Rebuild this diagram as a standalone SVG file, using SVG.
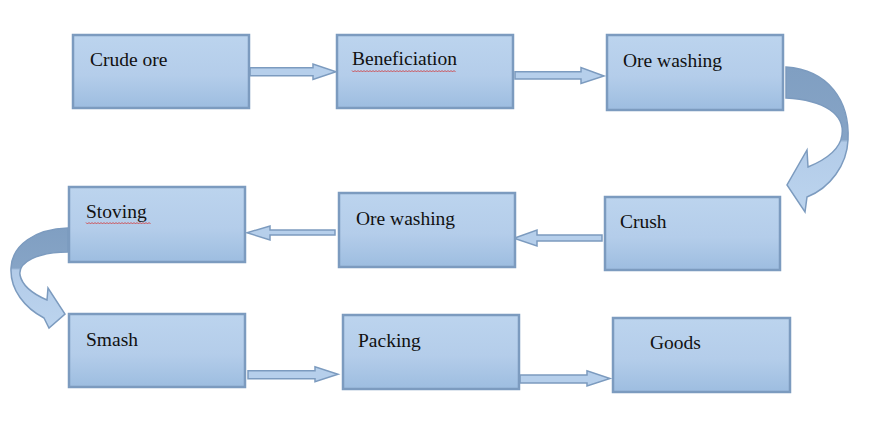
<svg xmlns="http://www.w3.org/2000/svg" width="869" height="442" viewBox="0 0 869 442">
<defs>
<linearGradient id="boxg" x1="0" y1="0" x2="0" y2="1">
<stop offset="0" stop-color="#bcd4ee"/>
<stop offset="0.55" stop-color="#b4cdea"/>
<stop offset="1" stop-color="#9dbde0"/>
</linearGradient>
<linearGradient id="curveR" gradientUnits="userSpaceOnUse" x1="0" y1="67" x2="0" y2="212">
<stop offset="0" stop-color="#809fc2"/>
<stop offset="0.5" stop-color="#86a4c6"/>
<stop offset="0.52" stop-color="#b2cbe8"/>
<stop offset="1" stop-color="#bcd4ee"/>
</linearGradient>
<linearGradient id="curveL" gradientUnits="userSpaceOnUse" x1="0" y1="228" x2="0" y2="328">
<stop offset="0" stop-color="#809fc2"/>
<stop offset="0.4" stop-color="#86a4c6"/>
<stop offset="0.42" stop-color="#b2cbe8"/>
<stop offset="1" stop-color="#bcd4ee"/>
</linearGradient>
<style>
.box{fill:url(#boxg);stroke:#7c9bbf;stroke-width:2.5}
.lbl{font-family:"Liberation Serif","Times New Roman",serif;font-size:19.5px;fill:#111}
.arr{fill:#b6cfeb;stroke:#7c9bbf;stroke-width:1.5;stroke-linejoin:miter}
.carr{stroke:#7c9bbf;stroke-width:1.5}
.sq{fill:none;stroke:#d23030;stroke-width:0.8}
</style>
</defs>
<g id="connectors">
<path class="arr" d="M250,67.7 H313 V64 L336,71.7 L313,79.5 V75.7 H250 Z"/>
<path class="arr" d="M515,71.7 H581 V67.5 L604,76 L581,83.5 V79 H515 Z"/>
<path class="arr" d="M602,235 H537 V230 L514,238.3 L537,246 V241 H602 Z"/>
<path class="arr" d="M335,230 H270 V226 L247,232.7 L270,240 V235 H335 Z"/>
<path class="arr" d="M248,370.7 H315 V366.7 L338,374.3 L315,381.7 V378.7 H248 Z"/>
<path class="arr" d="M520,375 H587 V370.7 L610,378.5 L587,386 V383 H520 Z"/>
<path class="carr" fill="url(#curveR)" d="M786,67 C828,70 850,100 848,140 C847,165 830,188 807,197 L805,212 L787,185 L807,150 L808,167 C825,160 840,150 842,135 C845,115 825,100 786,98 Z"/>
<path class="carr" fill="url(#curveL)" d="M68,228 C35,229 12,245 11,268 C10,290 25,308 44,318 L49,328 L65,314 L48,288 L47,300 C33,294 22,285 20,275 C18,262 38,252 68,252 Z"/>
</g>
<g id="n1"><rect class="box" x="73" y="35" width="176" height="73"/><text class="lbl" x="90" y="66">Crude ore</text></g>
<g id="n2"><rect class="box" x="337" y="35" width="176" height="73"/><text class="lbl" x="352" y="65">Beneficiation</text>
<path class="sq" d="M352,70.5 l1.5,1.5 l1.5,-1.5 l1.5,1.5 l1.5,-1.5 l1.5,1.5 l1.5,-1.5 l1.5,1.5 l1.5,-1.5 l1.5,1.5 l1.5,-1.5 l1.5,1.5 l1.5,-1.5 l1.5,1.5 l1.5,-1.5 l1.5,1.5 l1.5,-1.5 l1.5,1.5 l1.5,-1.5 l1.5,1.5 l1.5,-1.5 l1.5,1.5 l1.5,-1.5 l1.5,1.5 l1.5,-1.5 l1.5,1.5 l1.5,-1.5 l1.5,1.5 l1.5,-1.5 l1.5,1.5 l1.5,-1.5 l1.5,1.5 l1.5,-1.5 l1.5,1.5 l1.5,-1.5 l1.5,1.5 l1.5,-1.5 l1.5,1.5 l1.5,-1.5 l1.5,1.5 l1.5,-1.5 l1.5,1.5 l1.5,-1.5 l1.5,1.5 l1.5,-1.5 l1.5,1.5 l1.5,-1.5 l1.5,1.5 l1.5,-1.5 l1.5,1.5 l1.5,-1.5 l1.5,1.5 l1.5,-1.5 l1.5,1.5 l1.5,-1.5 l1.5,1.5 l1.5,-1.5 l1.5,1.5 l1.5,-1.5 l1.5,1.5 l1.5,-1.5 l1.5,1.5 l1.5,-1.5 l1.5,1.5 l1.5,-1.5 l1.5,1.5 l1.5,-1.5 l1.5,1.5 l1.5,-1.5 l1.5,1.5"/></g>
<g id="n3"><rect class="box" x="607" y="35" width="176" height="75"/><text class="lbl" x="623" y="67">Ore washing</text></g>
<g id="n4"><rect class="box" x="605" y="197" width="175" height="73"/><text class="lbl" x="620" y="228">Crush</text></g>
<g id="n5"><rect class="box" x="339" y="193" width="176" height="74"/><text class="lbl" x="356" y="225">Ore washing</text></g>
<g id="n6"><rect class="box" x="69" y="187" width="176" height="75"/><text class="lbl" x="86" y="218">Stoving</text>
<path class="sq" d="M86,222.5 l1.5,1.5 l1.5,-1.5 l1.5,1.5 l1.5,-1.5 l1.5,1.5 l1.5,-1.5 l1.5,1.5 l1.5,-1.5 l1.5,1.5 l1.5,-1.5 l1.5,1.5 l1.5,-1.5 l1.5,1.5 l1.5,-1.5 l1.5,1.5 l1.5,-1.5 l1.5,1.5 l1.5,-1.5 l1.5,1.5 l1.5,-1.5 l1.5,1.5 l1.5,-1.5 l1.5,1.5 l1.5,-1.5 l1.5,1.5 l1.5,-1.5 l1.5,1.5 l1.5,-1.5 l1.5,1.5 l1.5,-1.5 l1.5,1.5 l1.5,-1.5 l1.5,1.5 l1.5,-1.5 l1.5,1.5 l1.5,-1.5 l1.5,1.5 l1.5,-1.5 l1.5,1.5 l1.5,-1.5 l1.5,1.5 l1.5,-1.5 l1.5,1.5"/></g>
<g id="n7"><rect class="box" x="69" y="314" width="176" height="73"/><text class="lbl" x="86" y="346">Smash</text></g>
<g id="n8"><rect class="box" x="343" y="315" width="176" height="74"/><text class="lbl" x="358" y="347">Packing</text></g>
<g id="n9"><rect class="box" x="613" y="318" width="177" height="74"/><text class="lbl" x="650" y="349">Goods</text></g>
</svg>
